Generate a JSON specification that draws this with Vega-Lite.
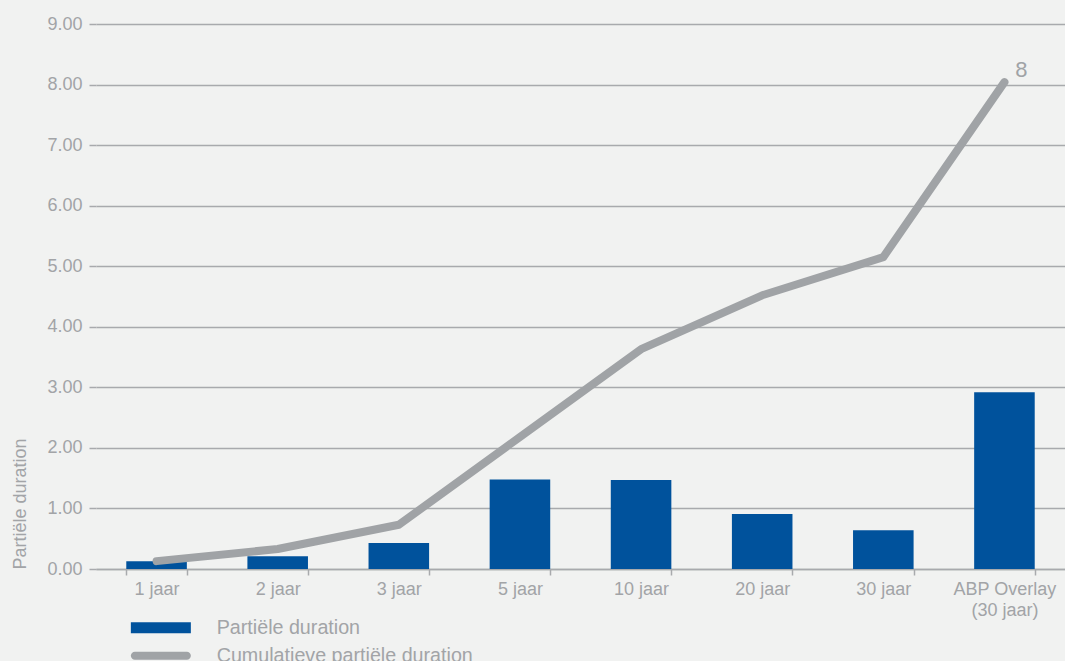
{
  "$schema": "https://vega.github.io/schema/vega-lite/v6.json",
  "width": 969,
  "height": 545,
  "autosize": {"type": "none"},
  "padding": {"left": 96, "top": 24, "right": 0, "bottom": 92},
  "background": "#f1f2f1",
  "config": {
    "view": {"stroke": null},
    "font": "Liberation Sans",
    "axis": {
      "labelFont": "Liberation Sans",
      "labelFontSize": 18,
      "labelColor": "#a2a4a7",
      "titleFont": "Liberation Sans",
      "titleFontSize": 18,
      "titleFontWeight": "normal",
      "titleColor": "#a2a4a7"
    },
    "legend": {
      "labelFont": "Liberation Sans",
      "labelFontSize": 19.7,
      "labelColor": "#a2a4a7",
      "labelLimit": 500
    }
  },
  "data": {
    "values": [
      {"cat": "1 jaar", "partial": 0.13, "cumulative": 0.13},
      {"cat": "2 jaar", "partial": 0.21, "cumulative": 0.33},
      {"cat": "3 jaar", "partial": 0.43, "cumulative": 0.73},
      {"cat": "5 jaar", "partial": 1.48, "cumulative": 2.18},
      {"cat": "10 jaar", "partial": 1.47, "cumulative": 3.63},
      {"cat": "20 jaar", "partial": 0.91, "cumulative": 4.52},
      {"cat": "30 jaar", "partial": 0.64, "cumulative": 5.15},
      {"cat": "ABP Overlay (30 jaar)", "partial": 2.92, "cumulative": 8.04}
    ]
  },
  "encoding": {
    "x": {
      "field": "cat",
      "type": "nominal",
      "sort": null,
      "scale": {"paddingInner": 0.5, "paddingOuter": 0.25},
      "axis": {
        "title": null,
        "labelAngle": 0,
        "tickBand": "extent",
        "tickSize": 6,
        "tickWidth": 1.5,
        "tickColor": "#a8aaad",
        "domainColor": "#a8aaad",
        "domainWidth": 1.5,
        "labelPadding": 5,
        "labelLineHeight": 21,
        "labelExpr": "datum.value == 'ABP Overlay (30 jaar)' ? ['ABP Overlay', '(30 jaar)'] : datum.value"
      }
    }
  },
  "layer": [
    {
      "mark": {"type": "bar", "color": "#00529c"},
      "encoding": {
        "y": {
          "field": "partial",
          "type": "quantitative",
          "scale": {"domain": [0, 9]},
          "axis": {
            "title": "Partiële duration",
            "titleAnchor": "start",
            "titlePadding": 17,
            "format": ".2f",
            "tickCount": 9,
            "domain": false,
            "grid": true,
            "gridColor": "#a8aaad",
            "gridWidth": 1.5,
            "tickColor": "#a8aaad",
            "tickWidth": 1.5,
            "tickSize": 7,
            "labelPadding": 7
          }
        },
        "color": {
          "datum": "Partiële duration",
          "scale": {
            "domain": ["Partiële duration", "Cumulatieve partiële duration"],
            "range": ["#00529c", "#a0a3a6"]
          },
          "legend": {
            "title": null,
            "orient": "none",
            "legendX": 55,
            "legendY": 594,
            "direction": "vertical",
            "symbolType": "M-6,-1.1H6V1.1H-6Z",
            "symbolSize": 100,
            "symbolStrokeWidth": 0,
            "labelOffset": 46,
            "labelLimit": 500,
            "rowPadding": 7,
            "encode": {
              "symbols": {
                "update": {
                  "shape": {"signal": "datum.value == 'Partiële duration' ? 'M-6,-1.1H6V1.1H-6Z' : 'M-5.2,-0.8H5.2A0.8,0.8 0 0 1 5.2,0.8H-5.2A0.8,0.8 0 0 1 -5.2,-0.8Z'"},
                  "fill": {"scale": "color", "field": "value"},
                  "opacity": {"value": 1},
                  "strokeWidth": {"value": 0}
                }
              }
            }
          }
        }
      }
    },
    {
      "mark": {"type": "line", "strokeWidth": 8, "strokeCap": "round", "strokeJoin": "round"},
      "encoding": {
        "y": {"field": "cumulative", "type": "quantitative"},
        "color": {"datum": "Cumulatieve partiële duration"}
      }
    },
    {
      "transform": [{"filter": "datum.cat == 'ABP Overlay (30 jaar)'"}],
      "mark": {"type": "text", "fontSize": 22, "color": "#a0a3a6", "dx": 17, "dy": -12, "font": "Liberation Sans"},
      "encoding": {
        "y": {"field": "cumulative", "type": "quantitative"},
        "text": {"field": "cumulative", "type": "quantitative", "format": ".0f"}
      }
    }
  ]
}
